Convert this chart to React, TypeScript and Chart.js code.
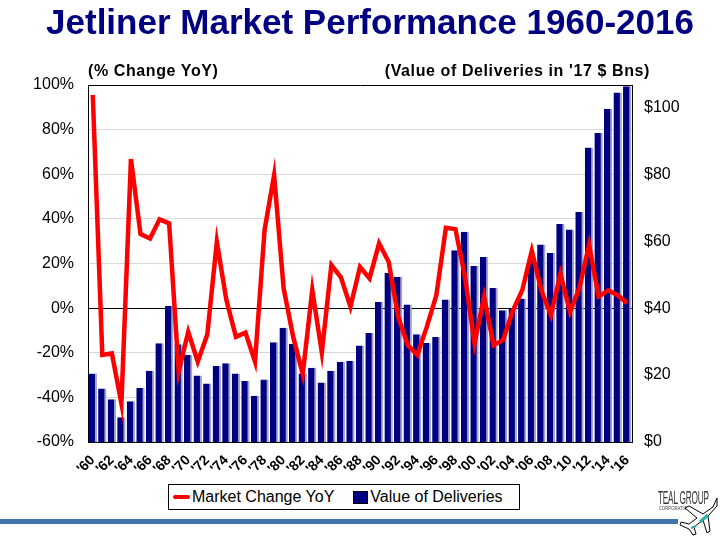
import React, { useEffect, useRef } from 'react';
import { Chart, registerables } from 'chart.js';

Chart.register(...registerables);

// year labels, 1960-2016
const years = [
  "'60", "'61", "'62", "'63", "'64", "'65", "'66", "'67", "'68", "'69",
  "'70", "'71", "'72", "'73", "'74", "'75", "'76", "'77", "'78", "'79",
  "'80", "'81", "'82", "'83", "'84", "'85", "'86", "'87", "'88", "'89",
  "'90", "'91", "'92", "'93", "'94", "'95", "'96", "'97", "'98", "'99",
  "'00", "'01", "'02", "'03", "'04", "'05", "'06", "'07", "'08", "'09",
  "'10", "'11", "'12", "'13", "'14", "'15", "'16",
];

// % change YoY (left axis)
const marketChange = [
  95.5, -21, -20.3, -42.7, 66.8, 33.2, 31.2, 39.8, 38, -28.5,
  -10.6, -24, -11.8, 29.7, 3.6, -12.9, -11, -24, 35, 59.6,
  8.8, -12.9, -29.6, 8.1, -19.9, 19.3, 13.8, 0.6, 18.5, 13.3,
  29, 20.8, -3.9, -16.6, -21, -8.4, 5.8, 36, 35.4, 14,
  -15.8, 5, -16.6, -14.3, -1.2, 8, 25.7, 8, -3.1, 15.3,
  -1.7, 9.2, 28.4, 5.2, 8, 5.8, 2.2,
];

// value of deliveries, '17 $ Bns (right axis)
const deliveries = [
  20.5, 16.0, 12.8, 7.4, 12.2, 16.2, 21.3, 29.5, 40.7, 29.2,
  26.1, 19.9, 17.5, 22.7, 23.5, 20.5, 18.2, 13.8, 18.7, 29.8,
  34.1, 29.3, 20.5, 22.2, 17.8, 21.3, 24.0, 24.3, 28.8, 32.6,
  41.8, 50.5, 49.4, 41.1, 32.2, 29.6, 31.4, 42.6, 57.3, 62.8,
  52.6, 55.3, 46.0, 39.4, 40.0, 42.9, 55.0, 59.0, 56.5, 65.1,
  63.5, 68.7, 88.0, 92.3, 99.6, 104.4, 106.3,
];

const leftTicks = [-60, -40, -20, 0, 20, 40, 60, 80, 100];
const rightTicks = [0, 20, 40, 60, 80, 100];

const FONT = "'Liberation Sans', Arial, sans-serif";
const NAVY = '#000080';

const JetlinerChart: React.FC = () => {
  const canvasRef = useRef<HTMLCanvasElement>(null);

  useEffect(() => {
    const ctx = canvasRef.current?.getContext('2d');
    if (!ctx) return;
    Chart.defaults.font.family = FONT;
    Chart.defaults.color = '#000';

    const chart = new Chart(ctx, {
      type: 'bar',
      data: {
        labels: years,
        datasets: [
          {
            type: 'line',
            label: 'Market Change YoY',
            data: marketChange,
            borderColor: '#ff0000',
            borderWidth: 4.5,
            pointRadius: 0,
            tension: 0,
            yAxisID: 'y',
            order: 0,
          },
          {
            type: 'bar',
            label: 'Value of Deliveries',
            data: deliveries,
            backgroundColor: NAVY,
            borderColor: '#a4a4cc',
            borderWidth: { top: 0, left: 0, right: 2, bottom: 0 },
            borderSkipped: false,
            barPercentage: 0.88,
            categoryPercentage: 1,
            yAxisID: 'y1',
            order: 1,
          },
        ],
      },
      options: {
        responsive: false,
        animation: false,
        layout: { padding: { top: 85, left: 0, right: 0, bottom: 0 } },
        plugins: {
          legend: { display: false },
          title: { display: false },
          tooltip: { enabled: false },
        },
        scales: {
          x: {
            grid: { display: false },
            border: { display: true, color: '#000' },
            ticks: {
              autoSkip: false,
              minRotation: 45,
              maxRotation: 45,
              padding: 2,
              font: { size: 14, weight: 'bold' },
              callback: (_v, i) => (i % 2 === 0 ? years[i] : ''),
            },
            afterFit: (scale) => {
              scale.height = 98;
            },
          },
          y: {
            position: 'left',
            min: -60,
            max: 100,
            afterBuildTicks: (scale) => {
              scale.ticks = leftTicks.map((v) => ({ value: v }));
            },
            grid: {
              drawTicks: false,
              color: (c) => (c.tick && (c.tick.value === 0 || c.tick.value === 100) ? '#000' : '#d8d8d8'),
            },
            border: { display: true, color: '#000' },
            ticks: {
              padding: 14,
              font: { size: 16 },
              callback: (v) => `${v}%`,
            },
            afterFit: (scale) => {
              scale.width = 88;
            },
          },
          y1: {
            position: 'right',
            min: 0,
            max: 320 / 3,
            afterBuildTicks: (scale) => {
              scale.ticks = rightTicks.map((v) => ({ value: v }));
            },
            grid: { display: false, drawTicks: false },
            border: { display: true, color: '#000' },
            ticks: {
              padding: 12,
              font: { size: 16 },
              callback: (v) => `$${v}`,
            },
            afterFit: (scale) => {
              scale.width = 88;
            },
          },
        },
      },
    });

    return () => {
      chart.destroy();
    };
  }, []);

  return <canvas ref={canvasRef} width={720} height={540} style={{ position: 'absolute', left: 0, top: 0 }} />;
};

const App: React.FC = () => {
  return (
    <div
      style={{
        position: 'absolute',
        left: 0,
        top: 0,
        width: 720,
        height: 540,
        overflow: 'hidden',
        background: '#fff',
        fontFamily: FONT,
      }}
    >
      <JetlinerChart />
      <div
        style={{
          position: 'absolute',
          left: 0,
          width: 740,
          top: 2,
          textAlign: 'center',
          fontSize: 35,
          fontWeight: 'bold',
          color: NAVY,
          whiteSpace: 'nowrap',
        }}
      >
        Jetliner Market Performance 1960-2016
      </div>
      <div
        style={{
          position: 'absolute',
          left: 88,
          top: 62,
          fontSize: 16,
          fontWeight: 'bold',
          letterSpacing: 0.6,
          whiteSpace: 'nowrap',
        }}
      >
        (% Change YoY)
      </div>
      <div
        style={{
          position: 'absolute',
          right: 70,
          top: 62,
          fontSize: 16,
          fontWeight: 'bold',
          letterSpacing: 0.6,
          whiteSpace: 'nowrap',
        }}
      >
        (Value of Deliveries in '17 $ Bns)
      </div>

      {/* legend */}
      <div
        style={{
          position: 'absolute',
          left: 168,
          top: 484,
          width: 350,
          height: 24,
          border: '1px solid #000',
          background: '#fff',
          display: 'flex',
          alignItems: 'center',
          fontSize: 16,
          whiteSpace: 'nowrap',
        }}
      >
        <span style={{ display: 'inline-block', width: 17, height: 4, borderRadius: 2, background: '#ff0000', marginLeft: 4, marginRight: 2 }} />
        <span>Market Change YoY</span>
        <span
          style={{
            display: 'inline-block',
            width: 13,
            height: 11,
            background: NAVY,
            border: '1px solid #000',
            marginLeft: 19,
            marginRight: 2,
          }}
        />
        <span>Value of Deliveries</span>
      </div>

      {/* footer rule and logo */}
      <div style={{ position: 'absolute', left: 0, top: 519, width: 678, height: 5, background: '#4474ad' }} />
      <div
        style={{
          position: 'absolute',
          left: 658,
          top: 488,
          fontSize: 18,
          color: '#333',
          transform: 'scaleX(0.46)',
          transformOrigin: 'left top',
          whiteSpace: 'nowrap',
          letterSpacing: -0.5,
        }}
      >
        TEAL GROUP
      </div>
      <div
        style={{
          position: 'absolute',
          left: 659,
          top: 505,
          fontSize: 6,
          color: '#444',
          transform: 'scaleX(0.7)',
          transformOrigin: 'left top',
          whiteSpace: 'nowrap',
        }}
      >
        CORPORATION
      </div>
      <svg style={{ position: 'absolute', left: 676, top: 496 }} width={44} height={42} viewBox="0 0 44 42">
        <path
          d="M41 2 L37 11 L27 18 L13 10 L9 12 L21 22 L13 28 L5 26 L4 29 L13 33 L17 39 L20 38 L18 31 L27 24 L31 37 L34 35 L32 20 L41 10 Z"
          fill="#fff"
          stroke="#000"
          strokeWidth={1}
          strokeLinejoin="round"
        />
        <path d="M24 26 L32 19" stroke="#2ab0a8" strokeWidth={3} />
        <path d="M15 32 L20 30" stroke="#2ab0a8" strokeWidth={2} />
      </svg>
    </div>
  );
};

export default App;
